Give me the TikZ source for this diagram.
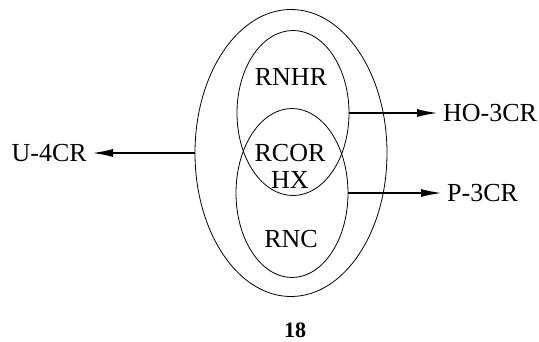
\documentclass[tikz,border=0pt]{standalone}
\usepackage{fontspec}
\setmainfont{Liberation Serif}
\usetikzlibrary{arrows.meta,shapes.geometric}

\begin{document}
\begin{tikzpicture}[x=1pt,
            y=-1pt,
            >={Latex[length=21pt,width=8pt]},
            ring/.style={draw,ellipse,inner sep=0pt,line width=0.8pt},
            txt/.style={font=\fontsize{26}{27}\selectfont,inner sep=0pt,align=center},
            tag/.style={txt,inner sep=5pt},
            flow/.style={->,line width=1.8pt}]

        \useasboundingbox (0,0) rectangle (539,342);

        % the three rings
        \node[ring,minimum width=192pt,minimum height=287pt] (outer) at (291,153) {};
        \node[ring,minimum width=112pt,minimum height=165pt] (upper) at (293,113) {};
        \node[ring,minimum width=112pt,minimum height=169pt] (lower) at (292,193) {};

        \node[txt] (rnhr) at (291,77)  {RNHR};
        \node[txt] (rcor) at (290,166) {RCOR\\HX};
        \node[txt] (rnc)  at (291,239) {RNC};

        % outside labels
        \node[tag,anchor=east] (u)  at (92,153)  {U-4CR};
        \node[tag,anchor=west] (ho) at (438,113) {HO-3CR};
        \node[tag,anchor=west] (p)  at (442,193) {P-3CR};

        \node[txt,font=\fontsize{22}{24}\selectfont\bfseries] (num) at (295,330) {18};

        \path (outer.west) edge[flow] (u.east)
              (upper.east) edge[flow] (ho.west)
              (lower.east) edge[flow] (p.west);

    \end{tikzpicture}
\end{document}
